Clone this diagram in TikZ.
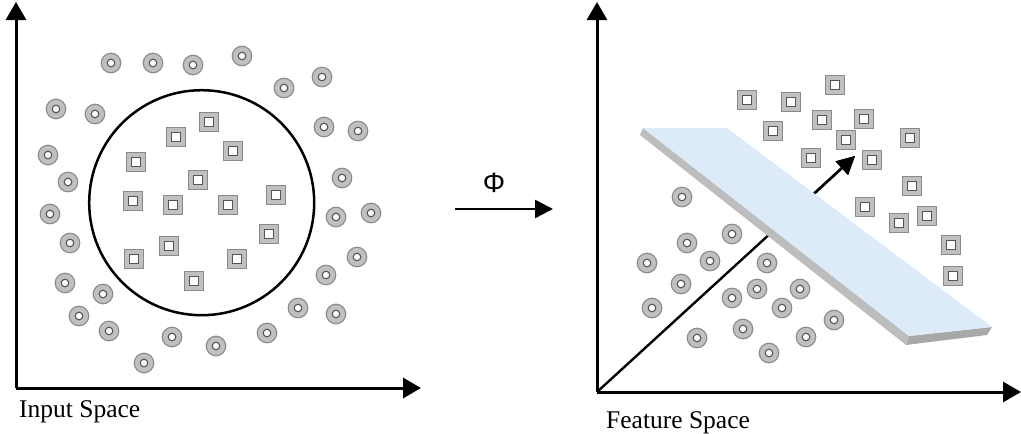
\documentclass[tikz,border=0pt]{standalone}
\usepackage{fontspec}
\setmainfont{Liberation Serif}
\newfontfamily\phifont{Liberation Sans}
\usetikzlibrary{arrows.meta}
\definecolor{dotfill}{HTML}{C0C0C0}
\definecolor{dotedge}{HTML}{8A8A8A}
\definecolor{inneredge}{HTML}{555555}
\definecolor{planetop}{HTML}{DDEAF8}
\definecolor{planeside}{HTML}{BDBDBD}
\definecolor{planefront}{HTML}{A8A8A8}
\tikzset{
  axis/.style={line width=3pt,-{Triangle[length=18pt,width=20pt]}},
  diag/.style={line width=2.4pt,-{Triangle[length=18pt,width=18pt]}},
  donut/.pic={
    \fill[dotfill,draw=dotedge,line width=1.1pt] (0,0) circle (9.8);
    \fill[white,draw=inneredge,line width=1.1pt] (0,0) circle (3.8);
  },
  sqmark/.pic={
    \fill[dotfill,draw=dotedge,line width=1.1pt] (-9.2,-9.2) rectangle (9.2,9.2);
    \fill[white,draw=inneredge,line width=1.1pt] (-4.4,-4.4) rectangle (4.4,4.4);
  },
  lbl/.style={font=\fontsize{25.5}{30}\selectfont,anchor=base west,inner sep=0pt},
}
\begin{document}
\begin{tikzpicture}[x=1pt,y=-1pt]
\useasboundingbox (0,0) rectangle (1021,434);
% ---------- left panel ----------
\coordinate (lo) at (16,388);
\coordinate (ltop) at (16,2);
\coordinate (lright) at (421,388);
\draw[axis] (lo) -- (ltop);
\draw[axis] (lo) -- (lright);
\node[draw,line width=2.5pt,circle,minimum size=225pt,inner sep=0pt] (ring) at (201.7,202.7) {};
\foreach \p in {(111,63),(153,63),(193,65),(242,56),(284,88),(322,77),
  (56,109),(95,114),(48,155),(68,182),(324,127),(358,131),(342,178),
  (50,214),(336,217),(371,213),(70,243),(357,257),(326,275),(65,283),
  (103,294),(79,316),(109,331),(298,308),(336,314),(172,337),(216,346),
  (267,333),(144,363)}
  \pic at \p {donut};
\foreach \p in {(209,122),(176,137),(233,151),(136,162),(198,180),(276,195),
  (133,201),(173,205),(228,205),(269,234),(169,246),(134,259),(237,259),(194,281)}
  \pic at \p {sqmark};
\node[lbl] (inlabel) at (19,417) {Input Space};
% ---------- mapping arrow ----------
\coordinate (ms) at (455,209);
\coordinate (me) at (553,209);
\draw[line width=2.6pt,-{Triangle[length=18pt,width=18pt]}] (ms) -- (me);
\node[font=\phifont\fontsize{28}{30}\selectfont,inner sep=0pt] (phi) at (494,183) {Φ};
% ---------- right panel ----------
\coordinate (ro) at (597,392);
\coordinate (rtop) at (597,2);
\coordinate (rright) at (1021,392);
\coordinate (rdiag) at (855,156);
\draw[axis] (ro) -- (rtop);
\draw[axis] (ro) -- (rright);
\draw[diag] (ro) -- (rdiag);
% plane
\coordinate (pa) at (643,128);
\coordinate (pb) at (727,128);
\coordinate (pc) at (992,327);
\coordinate (pd) at (909,336);
\coordinate (pa2) at (640,135);
\coordinate (pd2) at (906,345);
\coordinate (pc2) at (987,335);
\fill[planeside] (pa) -- (pd) -- (pd2) -- (pa2) -- cycle;
\fill[planefront] (pd) -- (pc) -- (pc2) -- (pd2) -- cycle;
\fill[planetop] (pa) -- (pb) -- (pc) -- (pd) -- cycle;
% visible part of the diagonal axis above plane
\coordinate (rexit) at (815,193);
\draw[diag] (rexit) -- (rdiag);
\foreach \p in {(747,100),(791,102),(835,85),(773,131),(822,120),(864,119),
  (846,140),(910,138),(811,158),(872,160),(912,186),(865,207),(899,223),
  (927,216),(951,245),(953,276)}
  \pic at \p {sqmark};
\foreach \p in {(682,197),(732,234),(687,243),(710,261),(647,263),(767,263),
  (681,284),(757,289),(800,289),(732,298),(652,308),(782,308),(834,320),
  (743,329),(806,337),(697,338),(769,353)}
  \pic at \p {donut};
\node[lbl] (felabel) at (606,428) {Feature Space};
\end{tikzpicture}
\end{document}
